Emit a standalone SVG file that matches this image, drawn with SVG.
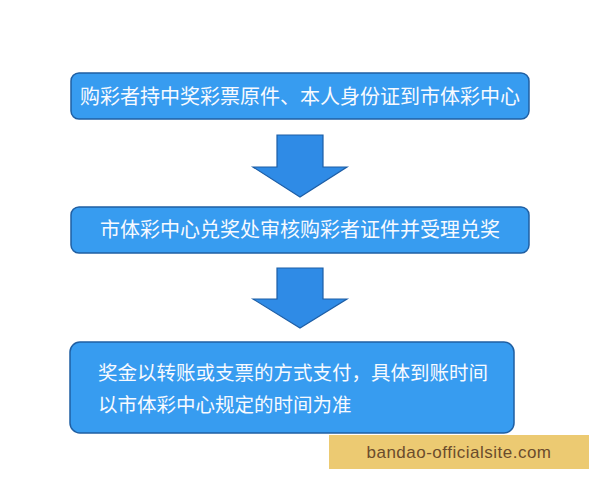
<svg xmlns="http://www.w3.org/2000/svg" width="600" height="480" viewBox="0 0 600 480">
<style>
.box{fill:#379cf0;stroke:#1f5fa3;stroke-width:1.5}
.arrow{fill:#2f8be6;stroke:#1d5ea6;stroke-width:1.2;stroke-linejoin:miter}
.t{font-family:"Noto Sans CJK SC","Liberation Sans",sans-serif;font-size:19.5px;fill:#f7faff}
.t2{font-size:20px}
.wm{font-family:"Liberation Sans","DejaVu Sans",sans-serif;font-size:17px;letter-spacing:0.5px;fill:#6b4c2c}
</style>
<rect width="600" height="480" fill="#ffffff"/>
<g id="node1">
<rect class="box" x="71" y="73" width="458" height="46" rx="8"/>
<text class="t t2" x="300" y="104" text-anchor="middle">购彩者持中奖彩票原件、本人身份证到市体彩中心</text>
</g>
<g id="node2">
<rect class="box" x="71" y="207" width="458" height="46" rx="8"/>
<text class="t t2" x="300" y="237" text-anchor="middle">市体彩中心兑奖处审核购彩者证件并受理兑奖</text>
</g>
<g id="node3">
<rect class="box" x="70" y="342" width="444" height="91" rx="10"/>
<text class="t" x="98" y="380">奖金以转账或支票的方式支付，具体到账时间</text>
<text class="t" x="98" y="412">以市体彩中心规定的时间为准</text>
</g>
<g id="connectors">
<polygon class="arrow" points="277,135 323,135 323,167 347,167 300,197 253,167 277,167"/>
<polygon class="arrow" points="277,268 323,268 323,299 347,299 300,328 253,299 277,299"/>
</g>
<g id="watermark">
<rect x="329" y="435" width="260" height="34" fill="#ecca72"/>
<text class="wm" x="459" y="458" text-anchor="middle">bandao-officialsite.com</text>
</g>
</svg>
